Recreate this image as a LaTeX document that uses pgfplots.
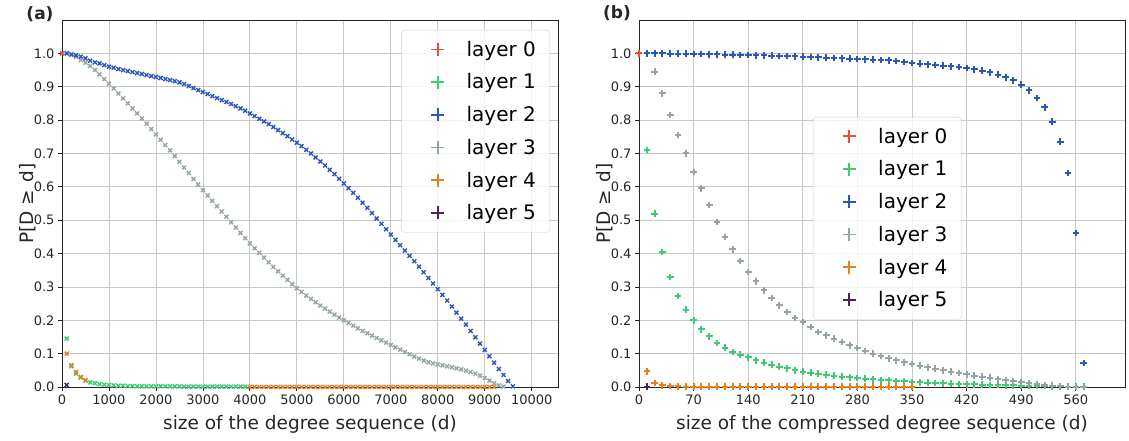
\documentclass[border=0pt]{standalone}
\usepackage{fontspec}
\setmainfont{DejaVu Sans}
\usepackage{pgfplots}
\pgfplotsset{compat=1.18}
\definecolor{cR}{HTML}{E74C3C}
\definecolor{cG}{HTML}{3DCB73}
\definecolor{cB}{HTML}{2A58BA}
\definecolor{cY}{HTML}{95A5A6}
\definecolor{cO}{HTML}{E67E22}
\definecolor{cP}{HTML}{4A235A}
\pgfplotsset{
  myax/.style={
    scale only axis,
    anchor=south west,
    height=367pt,
    ymin=0, ymax=1.1,
    ytick={0,0.1,0.2,0.3,0.4,0.5,0.6,0.7,0.8,0.9,1.0},
    yticklabel style={/pgf/number format/.cd, fixed, fixed zerofill, precision=1},
    /pgf/number format/assume math mode=true,
    /pgf/number format/set thousands separator={},
    scaled ticks=false,
    grid=major,
    major grid style={black!22, line width=0.8pt},
    axis line style={black!85, line width=0.8pt},
    tick align=outside,
    xtick pos=left, ytick pos=left,
    major tick length=4pt,
    tick style={black!85, line width=0.8pt},
    tick label style={font=\fontsize{13}{13}\selectfont, text=black!85},
    every axis y label/.style={at={(axis description cs:0,0.5)}, xshift=-34pt, rotate=90, anchor=center, font=\fontsize{18.5}{20}\selectfont, text=black!85},
    every axis x label/.style={at={(axis description cs:0.5,0)}, yshift=-37pt, anchor=center, font=\fontsize{18.5}{20}\selectfont, text=black!85},
    ylabel={P[D ≥\hspace{2pt} d]},
    legend cell align=left,
    legend style={font=\fontsize{20}{20}\selectfont, draw=black!20, rounded corners=3pt,
      fill=white, fill opacity=0.8, text opacity=1, row sep=12pt, inner xsep=12pt, inner ysep=9pt,
      /tikz/every odd column/.append style={column sep=20pt}},
    legend image code/.code={\path[draw=none, fill=none] (-24pt,-6pt) rectangle (7pt,6pt); \draw[#1] plot coordinates {(0pt,0pt)};},
  },
  lgm/.style={only marks, mark=+, mark size=6.5pt, line width=1.9pt, color=#1},
  lmk/.style={only marks, mark=x, mark size=2.8pt, line width=1.4pt, color=#1, forget plot},
  rmk/.style={only marks, mark=+, mark size=3.3pt, line width=2pt, color=#1, forget plot},
}
\begin{document}
\begin{tikzpicture}
\useasboundingbox (0,0) rectangle (1129pt,441pt);
\begin{axis}[myax, at={(62pt,54pt)}, width=496pt,
  xmin=0, xmax=10560,
  xtick={0,1000,2000,3000,4000,5000,6000,7000,8000,9000,10000},
  xlabel={size of the degree sequence (d)},
  legend style={at={(0.984,0.973)}, anchor=north east}]
\addlegendimage{lgm=cR}\addlegendentry{layer 0}
\addlegendimage{lgm=cG}\addlegendentry{layer 1}
\addlegendimage{lgm=cB}\addlegendentry{layer 2}
\addlegendimage{lgm=cY}\addlegendentry{layer 3}
\addlegendimage{lgm=cO}\addlegendentry{layer 4}
\addlegendimage{lgm=cP}\addlegendentry{layer 5}
\addplot[lmk=cR] coordinates {(0,1.0)};
\addplot[lmk=cG] coordinates {(100,0.145)(200,0.062)(300,0.04)(400,0.028)(500,0.02)(600,0.014)(700,0.011)(800,0.009)(900,0.007)(1000,0.006)(1100,0.005)(1200,0.004)(1300,0.004)(1400,0.003)(1500,0.003)(1600,0.002)(1700,0.002)(1800,0.002)(1900,0.002)(2000,0.002)(2100,0.002)(2200,0.002)(2300,0.002)(2400,0.002)(2500,0.002)(2600,0.001)(2700,0.001)(2800,0.001)(2900,0.001)(3000,0.001)(3100,0.001)(3200,0.001)(3300,0.001)(3400,0.001)(3500,0.001)(3600,0.001)(3700,0.001)(3800,0.001)(3900,0.001)};
\addplot[lmk=cY] coordinates {(100,1.0)(200,0.995)(300,0.99)(400,0.98)(500,0.972)(600,0.962)(700,0.95)(800,0.937)(900,0.923)(1000,0.909)(1100,0.895)(1200,0.88)(1300,0.865)(1400,0.85)(1500,0.835)(1600,0.82)(1700,0.805)(1800,0.789)(1900,0.773)(2000,0.757)(2100,0.741)(2200,0.725)(2300,0.709)(2400,0.692)(2500,0.675)(2600,0.658)(2700,0.641)(2800,0.624)(2900,0.607)(3000,0.59)(3100,0.574)(3200,0.558)(3300,0.542)(3400,0.526)(3500,0.51)(3600,0.494)(3700,0.478)(3800,0.462)(3900,0.446)(4000,0.43)(4100,0.416)(4200,0.402)(4300,0.388)(4400,0.374)(4500,0.36)(4600,0.347)(4700,0.334)(4800,0.321)(4900,0.308)(5000,0.296)(5100,0.285)(5200,0.274)(5300,0.264)(5400,0.254)(5500,0.244)(5600,0.235)(5700,0.226)(5800,0.217)(5900,0.208)(6000,0.20)(6100,0.192)(6200,0.184)(6300,0.176)(6400,0.168)(6500,0.161)(6600,0.154)(6700,0.147)(6800,0.14)(6900,0.133)(7000,0.126)(7100,0.119)(7200,0.112)(7300,0.105)(7400,0.098)(7500,0.091)(7600,0.085)(7700,0.079)(7800,0.074)(7900,0.071)(8000,0.068)(8100,0.065)(8200,0.062)(8300,0.059)(8400,0.056)(8500,0.053)(8600,0.049)(8700,0.045)(8800,0.04)(8900,0.034)(9000,0.027)(9100,0.019)(9200,0.011)(9300,0.005)(9400,0.001)};
\addplot[lmk=cB] coordinates {(100,1.0)(200,0.997)(300,0.994)(400,0.99)(500,0.985)(600,0.978)(700,0.973)(800,0.97)(900,0.965)(1000,0.96)(1100,0.957)(1200,0.953)(1300,0.95)(1400,0.947)(1500,0.944)(1600,0.941)(1700,0.938)(1800,0.935)(1900,0.932)(2000,0.929)(2100,0.926)(2200,0.923)(2300,0.92)(2400,0.917)(2500,0.913)(2600,0.908)(2700,0.902)(2800,0.896)(2900,0.89)(3000,0.884)(3100,0.878)(3200,0.872)(3300,0.866)(3400,0.86)(3500,0.854)(3600,0.848)(3700,0.842)(3800,0.835)(3900,0.828)(4000,0.82)(4100,0.812)(4200,0.804)(4300,0.796)(4400,0.788)(4500,0.779)(4600,0.77)(4700,0.761)(4800,0.752)(4900,0.742)(5000,0.732)(5100,0.722)(5200,0.711)(5300,0.70)(5400,0.688)(5500,0.676)(5600,0.664)(5700,0.651)(5800,0.638)(5900,0.624)(6000,0.61)(6100,0.596)(6200,0.582)(6300,0.567)(6400,0.552)(6500,0.537)(6600,0.521)(6700,0.505)(6800,0.489)(6900,0.473)(7000,0.457)(7100,0.441)(7200,0.425)(7300,0.409)(7400,0.393)(7500,0.377)(7600,0.361)(7700,0.344)(7800,0.327)(7900,0.31)(8000,0.293)(8100,0.276)(8200,0.259)(8300,0.241)(8400,0.223)(8500,0.205)(8600,0.187)(8700,0.168)(8800,0.149)(8900,0.13)(9000,0.111)(9100,0.092)(9200,0.073)(9300,0.054)(9400,0.036)(9500,0.018)(9600,0.002)};
\addplot[lmk=cO] coordinates {(100,0.1)(200,0.065)(300,0.045)(400,0.03)(500,0.02)(4000,0)(4100,0)(4200,0)(4300,0)(4400,0)(4500,0)(4600,0)(4700,0)(4800,0)(4900,0)(5000,0)(5100,0)(5200,0)(5300,0)(5400,0)(5500,0)(5600,0)(5700,0)(5800,0)(5900,0)(6000,0)(6100,0)(6200,0)(6300,0)(6400,0)(6500,0)(6600,0)(6700,0)(6800,0)(6900,0)(7000,0)(7100,0)(7200,0)(7300,0)(7400,0)(7500,0)(7600,0)(7700,0)(7800,0)(7900,0)(8000,0)(8100,0)(8200,0)(8300,0)(8400,0)(8500,0)(8600,0)(8700,0)(8800,0)(8900,0)(9000,0)(9100,0)(9200,0)};
\addplot[lmk=cP] coordinates {(100,0.006)};
\end{axis}
\begin{axis}[myax, at={(639pt,54pt)}, width=486pt,
  xmin=0, xmax=623,
  xtick={0,70,140,210,280,350,420,490,560},
  xlabel={size of the compressed degree sequence (d)},
  legend style={at={(0.358,0.736)}, anchor=north west}]
\addlegendimage{lgm=cR}\addlegendentry{layer 0}
\addlegendimage{lgm=cG}\addlegendentry{layer 1}
\addlegendimage{lgm=cB}\addlegendentry{layer 2}
\addlegendimage{lgm=cY}\addlegendentry{layer 3}
\addlegendimage{lgm=cO}\addlegendentry{layer 4}
\addlegendimage{lgm=cP}\addlegendentry{layer 5}
\addplot[rmk=cR] coordinates {(0,1.0)};
\addplot[rmk=cG] coordinates {(10,0.71)(20,0.52)(30,0.405)(40,0.33)(50,0.273)(60,0.232)(70,0.20)(80,0.173)(90,0.152)(100,0.132)(110,0.118)(120,0.105)(130,0.097)(140,0.089)(150,0.08)(160,0.073)(170,0.067)(180,0.061)(190,0.056)(200,0.05)(210,0.046)(220,0.043)(230,0.04)(240,0.037)(250,0.034)(260,0.031)(270,0.029)(280,0.027)(290,0.025)(300,0.023)(310,0.021)(320,0.02)(330,0.018)(340,0.017)(350,0.015)(360,0.014)(370,0.013)(380,0.012)(390,0.011)(400,0.01)(410,0.009)(420,0.008)(430,0.008)(440,0.007)(450,0.006)(460,0.006)(470,0.005)(480,0.005)(490,0.004)(500,0.004)(510,0.003)(520,0.003)(530,0.002)(540,0.002)(550,0.001)(560,0.001)(570,0.001)};
\addplot[rmk=cY] coordinates {(10,1.0)(20,0.945)(30,0.88)(40,0.815)(50,0.755)(60,0.70)(70,0.645)(80,0.595)(90,0.545)(100,0.495)(110,0.45)(120,0.413)(130,0.378)(140,0.345)(150,0.317)(160,0.29)(170,0.267)(180,0.245)(190,0.225)(200,0.207)(210,0.195)(220,0.18)(230,0.165)(240,0.155)(250,0.145)(260,0.135)(270,0.125)(280,0.117)(290,0.108)(300,0.10)(310,0.093)(320,0.086)(330,0.08)(340,0.074)(350,0.069)(360,0.064)(370,0.059)(380,0.055)(390,0.05)(400,0.046)(410,0.042)(420,0.038)(430,0.034)(440,0.031)(450,0.028)(460,0.024)(470,0.02)(480,0.017)(490,0.014)(500,0.011)(510,0.008)(520,0.006)(530,0.004)(540,0.002)(550,0.001)(560,0.0)(570,0.0)};
\addplot[rmk=cB] coordinates {(10,1.0)(20,1.0)(30,1.0)(40,0.999)(50,0.999)(60,0.999)(70,0.998)(80,0.998)(90,0.997)(100,0.997)(110,0.996)(120,0.996)(130,0.995)(140,0.995)(150,0.994)(160,0.994)(170,0.993)(180,0.992)(190,0.992)(200,0.991)(210,0.99)(220,0.989)(230,0.988)(240,0.987)(250,0.986)(260,0.985)(270,0.984)(280,0.983)(290,0.982)(300,0.981)(310,0.98)(320,0.979)(330,0.977)(340,0.974)(350,0.971)(360,0.969)(370,0.967)(380,0.965)(390,0.963)(400,0.961)(410,0.959)(420,0.956)(430,0.952)(440,0.948)(450,0.943)(460,0.936)(470,0.928)(480,0.919)(490,0.906)(500,0.889)(510,0.866)(520,0.838)(530,0.795)(540,0.735)(550,0.641)(560,0.462)(570,0.072)};
\addplot[rmk=cO] coordinates {(10,0.047)(20,0.012)(30,0.005)(40,0.003)(50,0.002)(60,0.001)(70,0.001)(80,0.001)(90,0.001)(100,0.001)(110,0.001)(120,0.001)(130,0.001)(140,0.001)(150,0.001)(160,0.001)(170,0.001)(180,0.001)(190,0.001)(200,0.001)(210,0.001)(220,0.001)(230,0.001)(240,0.001)(250,0.001)(260,0.001)(270,0.001)(280,0.001)(290,0.001)(300,0.001)(310,0.001)(320,0.001)(330,0.001)(340,0.001)(350,0.001)};
\addplot[rmk=cP] coordinates {(10,0.001)};
\end{axis}
\node[font=\fontsize{17}{17}\selectfont\bfseries, text=black!85] at (40pt,427pt) {(a)};
\node[font=\fontsize{17}{17}\selectfont\bfseries, text=black!85] at (617pt,428pt) {(b)};
\end{tikzpicture}
\end{document}
